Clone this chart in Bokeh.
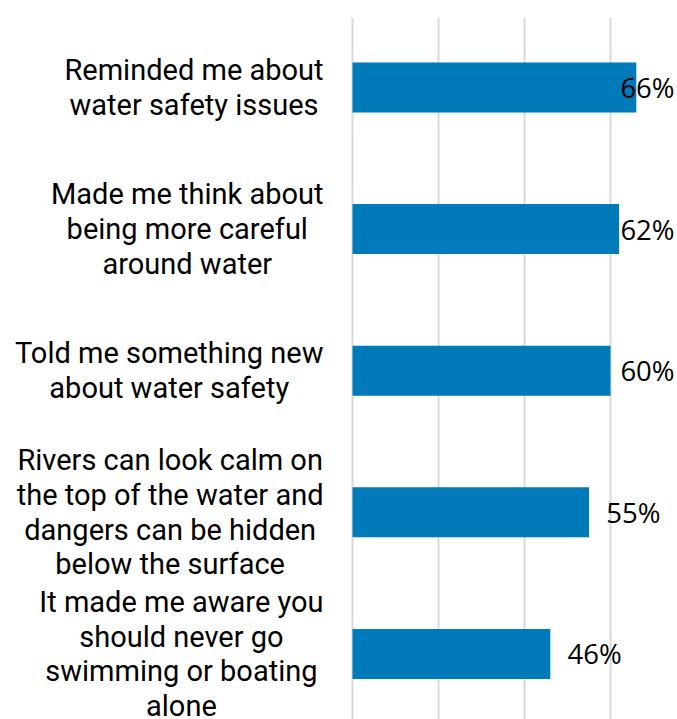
from bokeh.plotting import figure
from bokeh.models import ColumnDataSource, Range1d, FixedTicker
from bokeh.core.properties import value
from bokeh.embed import file_html
from bokeh.resources import INLINE

categories = [
    "Reminded me about\nwater safety issues",
    "Made me think about\nbeing more careful\naround water",
    "Told me something new\nabout water safety",
    "Rivers can look calm on\nthe top of the water and\ndangers can be hidden\nbelow the surface",
    "It made me aware you\nshould never go\nswimming or boating\nalone",
]
values = [66, 62, 60, 55, 46]
tick_values = [0, 20, 40, 60, 80]

positions = list(range(len(categories)))
label_x = [min(v + 4, 62.3) for v in values]
label_text = [f"{v}%" for v in values]

src = ColumnDataSource(dict(y=positions, v=values, cat=categories,
                            lx=label_x, lt=label_text,
                            cx=[-6.74] * len(categories)))

p = figure(width=677, height=719, output_backend="svg", toolbar_location=None,
           x_range=Range1d(-81.86, 75.58), y_range=Range1d(4.463, -0.494),
           x_axis_location=None, y_axis_location=None,
           min_border_left=0, min_border_right=0, min_border_top=17, min_border_bottom=0)
p.outline_line_color = None
p.ygrid.visible = False
p.xgrid.ticker = FixedTicker(ticks=tick_values)
p.xgrid.grid_line_color = "#d9d9d9"
p.xgrid.grid_line_width = 2

p.hbar(y="y", right="v", left=0, height=0.353, source=src,
       fill_color="#007AB8", line_color=None)

p.text(x="cx", y="y", text="cat", source=src,
       anchor=value("center_right"), text_align="center", text_baseline="middle",
       text_font=value("Roboto"), text_font_size="29px", text_color="#000000",
       text_line_height=1.02)

p.text(x="lx", y="y", text="lt", source=src,
       text_align="left", text_baseline="middle",
       text_font=value("Open Sans"), text_font_size="27.5px", text_color="#000000")

open("out.html", "w").write(file_html(p, INLINE))
